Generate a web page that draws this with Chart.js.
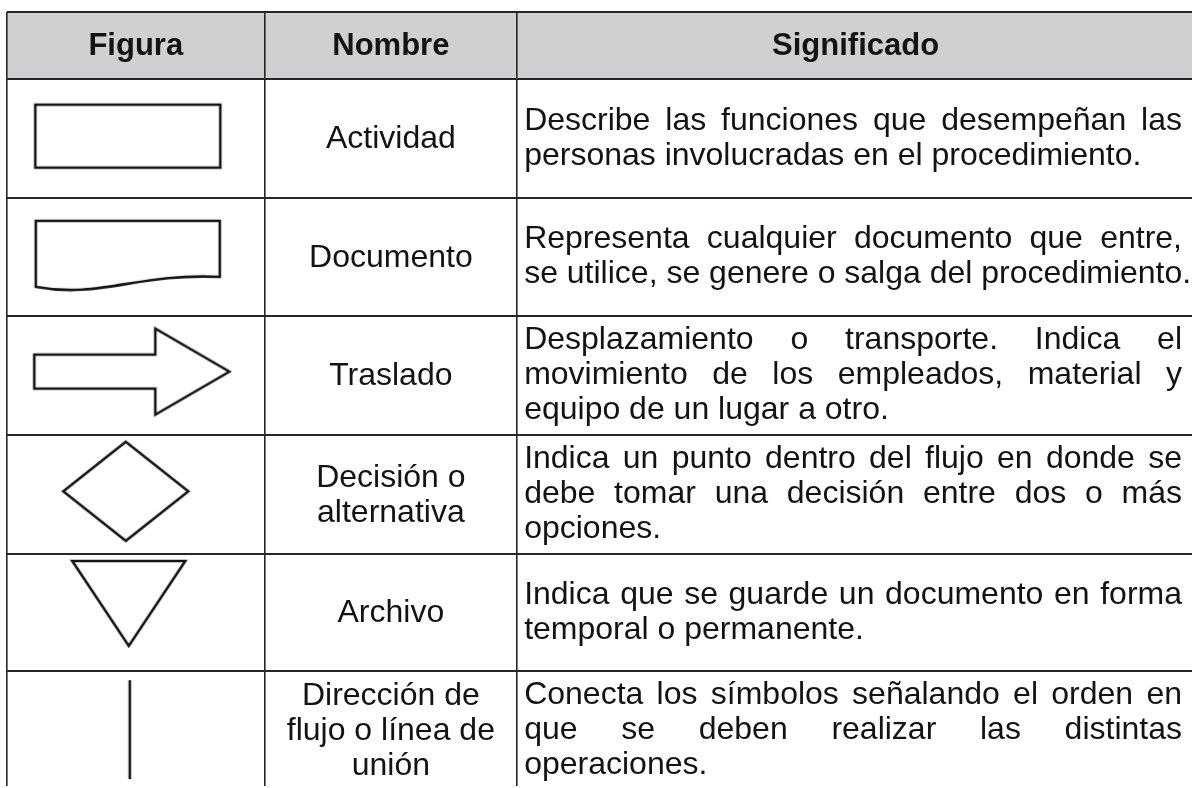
<!DOCTYPE html>
<html><head><meta charset="utf-8">
<script src="https://cdn.jsdelivr.net/npm/chart.js@4/dist/chart.umd.min.js"></script>
<style>html,body{margin:0;padding:0;background:#fff}#wrap{width:1194px;height:788px;position:relative}</style>
</head><body><div id="wrap"><canvas id="c"></canvas></div>
<script>
// ---- data ----
const headers = ["Figura", "Nombre", "Significado"];
const figuras = ["actividad", "documento", "traslado", "decision", "archivo", "flujo"];
const nombres = [
  ["Actividad"],
  ["Documento"],
  ["Traslado"],
  ["Decisión o", "alternativa"],
  ["Archivo"],
  ["Dirección de", "flujo o línea de", "unión"]
];
const significados = [
  ["Describe las funciones que desempeñan las", "personas involucradas en el procedimiento."],
  ["Representa cualquier documento que entre,", "se utilice, se genere o salga del procedimiento."],
  ["Desplazamiento o transporte. Indica el", "movimiento de los empleados, material y", "equipo de un lugar a otro."],
  ["Indica un punto dentro del flujo en donde se", "debe tomar una decisión entre dos o más", "opciones."],
  ["Indica que se guarde un documento en forma", "temporal o permanente."],
  ["Conecta los símbolos señalando el orden en", "que se deben realizar las distintas", "operaciones."]
];

// ---- layout (table geometry in scale units) ----
const colEdges = [0, 258, 511, 1189];
const rowEdges = [0, 67, 186, 305, 424, 543, 661, 780];
const shapeX = 121;
const shapeOff = {actividad: [0, -2], documento: [0, -1], traslado: [4, -4], decision: [-2, -3], archivo: [1, -9], flujo: [2, -1]};

const FONT = '"Liberation Sans", Arial, sans-serif';
const INK = '#131313';

function makeShape(type) {
  const sz = {actividad:[185,63], documento:[184,70], traslado:[195,86], decision:[125,99], archivo:[113,85], flujo:[4,99]}[type];
  const pad = 3;
  const c = document.createElement('canvas');
  c.width = sz[0] + pad * 2; c.height = sz[1] + pad * 2;
  const g = c.getContext('2d');
  g.strokeStyle = INK; g.lineWidth = 2.6; g.lineJoin = 'miter';
  const l = pad, t = pad, w = sz[0], h = sz[1], r = l + w, b = t + h;
  g.beginPath();
  if (type === 'actividad') {
    g.rect(l, t, w, h);
  } else if (type === 'documento') {
    g.moveTo(l, t); g.lineTo(r, t); g.lineTo(r, t + 56);
    g.bezierCurveTo(r - 0.45 * w, t + 52, l + 0.35 * w, t + 78, l, t + 66);
    g.closePath();
  } else if (type === 'traslado') {
    const cy = t + h / 2, sh = 34, hx = l + 121;
    g.moveTo(l, cy - sh / 2); g.lineTo(hx, cy - sh / 2); g.lineTo(hx, t);
    g.lineTo(r, cy); g.lineTo(hx, b); g.lineTo(hx, cy + sh / 2); g.lineTo(l, cy + sh / 2);
    g.closePath();
  } else if (type === 'decision') {
    g.moveTo(l + w / 2, t); g.lineTo(r, t + h / 2); g.lineTo(l + w / 2, b); g.lineTo(l, t + h / 2); g.closePath();
  } else if (type === 'archivo') {
    g.moveTo(l, t); g.lineTo(r, t); g.lineTo(l + w / 2, b); g.closePath();
  } else if (type === 'flujo') {
    g.moveTo(l + w / 2, t); g.lineTo(l + w / 2, b);
  }
  g.stroke();
  return c;
}

const rowCenter = i => (rowEdges[i + 1] + rowEdges[i + 2]) / 2;

const tablePlugin = {
  id: 'table',
  beforeDraw(chart) {
    const {ctx, scales: {x, y}, chartArea} = chart;
    ctx.save();
    ctx.fillStyle = '#d0d0d3';
    const y0 = y.getPixelForValue(rowEdges[0]), y1 = y.getPixelForValue(rowEdges[1]);
    ctx.fillRect(x.getPixelForValue(colEdges[0]), y0, chartArea.right - x.getPixelForValue(colEdges[0]), y1 - y0);
    ctx.restore();
  },
  afterDraw(chart) {
    const {ctx, scales: {x, y}} = chart;
    ctx.save();
    ctx.fillStyle = INK;
    ctx.textBaseline = 'middle';
    // header
    ctx.font = 'bold 31px ' + FONT;
    ctx.textAlign = 'center';
    const hy = y.getPixelForValue((rowEdges[0] + rowEdges[1]) / 2) + 1;
    headers.forEach((h, i) => {
      const cx = (x.getPixelForValue(colEdges[i]) + x.getPixelForValue(colEdges[i + 1])) / 2;
      ctx.fillText(h, cx, hy);
    });
    // body
    ctx.font = '32px ' + FONT;
    const LS = 35;
    const nx = (x.getPixelForValue(colEdges[1]) + x.getPixelForValue(colEdges[2])) / 2;
    const sl = x.getPixelForValue(colEdges[2]) + 7;
    const sr = 1182;
    nombres.forEach((lines, i) => {
      const cy = y.getPixelForValue(rowCenter(i)) + 1;
      ctx.textAlign = 'center';
      lines.forEach((ln, k) => ctx.fillText(ln, nx, cy + (k - (lines.length - 1) / 2) * LS));
    });
    ctx.textAlign = 'left';
    significados.forEach((lines, i) => {
      const cy = y.getPixelForValue(rowCenter(i));
      lines.forEach((ln, k) => {
        const ly = cy + (k - (lines.length - 1) / 2) * LS;
        const words = ln.split(' ');
        if (k === lines.length - 1 || words.length < 2) { ctx.fillText(ln, sl, ly); return; }
        const ww = words.map(wd => ctx.measureText(wd).width);
        const tot = ww.reduce((a, b) => a + b, 0);
        const gap = (sr - sl - tot) / (words.length - 1);
        let cx = sl;
        words.forEach((wd, j) => { ctx.fillText(wd, cx, ly); cx += ww[j] + gap; });
      });
    });
    ctx.restore();
  }
};

new Chart(document.getElementById('c'), {
  type: 'scatter',
  data: {
    datasets: [{
      data: figuras.map((f, i) => ({x: shapeX + shapeOff[f][0], y: rowCenter(i) + shapeOff[f][1]})),
      pointStyle: figuras.map(makeShape),
      pointRadius: 1,
      pointHoverRadius: 1
    }]
  },
  options: {
    responsive: true,
    maintainAspectRatio: false,
    animation: false,
    events: [],
    layout: {padding: {left: 7, top: 12, right: 0, bottom: 0}},
    plugins: {legend: {display: false}, tooltip: {enabled: false}},
    scales: {
      x: {
        type: 'linear', position: 'top', min: 0, max: 1187,
        ticks: {display: false, autoSkip: false},
        grid: {drawTicks: false, color: '#262626', lineWidth: 1.6},
        border: {display: false},
        afterBuildTicks: s => { s.ticks = colEdges.filter(v => v <= 1187).map(v => ({value: v})); }
      },
      y: {
        type: 'linear', reverse: true, min: 0, max: 776,
        ticks: {display: false, autoSkip: false},
        grid: {drawTicks: false, color: '#262626', lineWidth: 2},
        border: {display: false},
        afterBuildTicks: s => { s.ticks = rowEdges.filter(v => v <= 776).map(v => ({value: v})); }
      }
    }
  },
  plugins: [tablePlugin]
});
</script>
</body></html>
